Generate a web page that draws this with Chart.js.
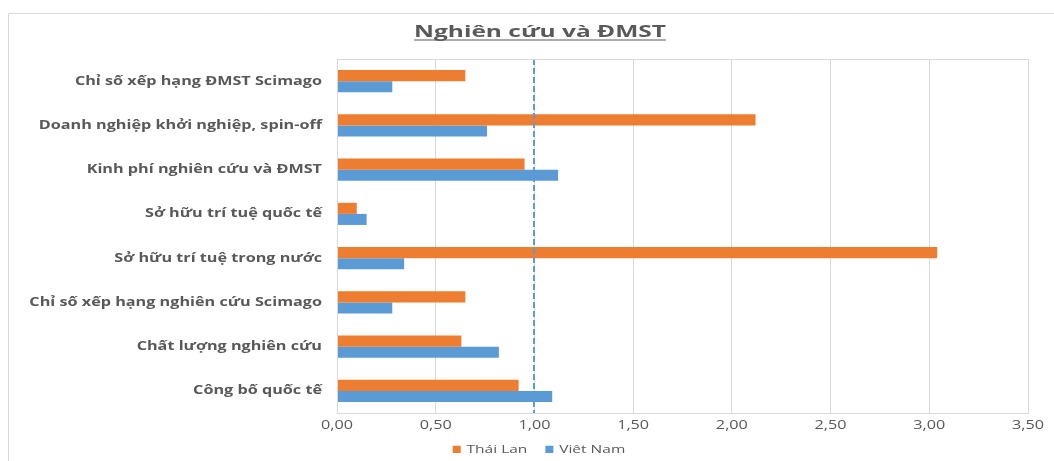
<!DOCTYPE html>
<html>
<head>
<meta charset="utf-8">
<script src="https://cdn.jsdelivr.net/npm/chart.js@4.4.1/dist/chart.umd.min.js"></script>
<style>
  html, body { margin: 0; padding: 0; background: #ffffff; }
  #wrap { width: 1054px; height: 461px; position: relative; }
  canvas { display: block; }
</style>
</head>
<body>
<div id="wrap"><canvas id="chart" width="1054" height="461"></canvas></div>
<script>
// ---- data ----
const chartTitle = 'Nghiên cứu và ĐMST';
const categories = [
  'Chỉ số xếp hạng ĐMST Scimago',
  'Doanh nghiệp khởi nghiệp, spin-off',
  'Kinh phí nghiên cứu và ĐMST',
  'Sở hữu trí tuệ quốc tế',
  'Sở hữu trí tuệ trong nước',
  'Chỉ số xếp hạng nghiên cứu Scimago',
  'Chất lượng nghiên cứu',
  'Công bố quốc tế'
];
const seriesNames = ['Thái Lan', 'Việt Nam'];
const thaiLan = [0.65, 2.12, 0.95, 0.10, 3.04, 0.65, 0.63, 0.92];
const vietNam = [0.28, 0.76, 1.12, 0.15, 0.34, 0.28, 0.82, 1.09];
const xTickLabels = ['0,00', '0,50', '1,00', '1,50', '2,00', '2,50', '3,00', '3,50'];
const referenceValue = 1;

// ---- style ----
const ORANGE = '#ED7D31';
const BLUE = '#5B9BD5';
const TEXT = '#595959';
const GRID = '#D9D9D9';
const FONT = '"Open Sans", "Liberation Sans", sans-serif';
const TEXT_STRETCH = 1.35;   // wide lettering for axis and legend text
const TITLE_STRETCH = 1.53;
const PLOT_LEFT = 337;
const FRAME_LEFT = 8;

const canvas = document.getElementById('chart');
const ctx = canvas.getContext('2d');

// Horizontally widened text drawing for all labels on this canvas.
const rawFill = ctx.fillText.bind(ctx);
const rawMeasure = ctx.measureText.bind(ctx);
ctx.fillText = function (text, x, y) {
  this.save();
  this.translate(x, y);
  this.scale(TEXT_STRETCH, 1);
  rawFill(text, 0, 0);
  this.restore();
};
ctx.measureText = function (text) {
  const m = rawMeasure(text);
  return {
    width: m.width * TEXT_STRETCH,
    actualBoundingBoxAscent: m.actualBoundingBoxAscent,
    actualBoundingBoxDescent: m.actualBoundingBoxDescent,
    actualBoundingBoxLeft: m.actualBoundingBoxLeft * TEXT_STRETCH,
    actualBoundingBoxRight: m.actualBoundingBoxRight * TEXT_STRETCH,
    fontBoundingBoxAscent: m.fontBoundingBoxAscent,
    fontBoundingBoxDescent: m.fontBoundingBoxDescent
  };
};

const decorations = {
  id: 'decorations',
  afterLayout(chart) {
    // centre the legend on the framed chart rather than the whole canvas
    const lg = chart.legend;
    lg.left = 50;
    lg.top -= 8;
    lg.bottom -= 8;
  },
  afterDatasetsDraw(chart) {
    const { ctx, chartArea: a, scales: { x } } = chart;
    const px = Math.round(x.getPixelForValue(referenceValue));
    ctx.save();
    ctx.strokeStyle = BLUE;
    ctx.lineWidth = 2;
    ctx.setLineDash([6, 3]);
    ctx.beginPath();
    ctx.moveTo(px, a.top);
    ctx.lineTo(px, a.bottom);
    ctx.stroke();
    ctx.restore();
  },
  afterDraw(chart) {
    const { ctx, chartArea: a } = chart;
    ctx.save();
    // outer frame
    ctx.strokeStyle = GRID;
    ctx.lineWidth = 1;
    ctx.beginPath();
    ctx.moveTo(FRAME_LEFT + 0.5, chart.height);
    ctx.lineTo(FRAME_LEFT + 0.5, 13.5);
    ctx.lineTo(chart.width, 13.5);
    ctx.stroke();
    // plot border
    ctx.strokeRect(Math.round(a.left) + 0.5, Math.round(a.top) + 0.5,
                   Math.round(a.right - a.left), Math.round(a.bottom - a.top));
    // title with underline
    ctx.font = 'bold 16px ' + FONT;
    ctx.fillStyle = TEXT;
    ctx.textAlign = 'center';
    ctx.textBaseline = 'alphabetic';
    const cx = 540, base = 37;
    ctx.save();
    ctx.translate(cx, base);
    ctx.scale(TITLE_STRETCH, 1);
    rawFill(chartTitle, 0, 0);
    ctx.restore();
    const w = rawMeasure(chartTitle).width * TITLE_STRETCH;
    ctx.strokeStyle = TEXT;
    ctx.lineWidth = 1.2;
    ctx.beginPath();
    ctx.moveTo(cx - w / 2, base + 3);
    ctx.lineTo(cx + w / 2, base + 3);
    ctx.stroke();
    ctx.restore();
  }
};

new Chart(ctx, {
  type: 'bar',
  data: {
    labels: categories,
    datasets: [
      { label: seriesNames[0], data: thaiLan, backgroundColor: ORANGE },
      { label: seriesNames[1], data: vietNam, backgroundColor: BLUE }
    ]
  },
  options: {
    indexAxis: 'y',
    responsive: false,
    animation: false,
    devicePixelRatio: 1,
    layout: { padding: { left: 0, right: 26, top: 59, bottom: 0 } },
    datasets: { bar: { categoryPercentage: 0.5, barPercentage: 1 } },
    scales: {
      x: {
        min: 0, max: 3.5,
        ticks: {
          stepSize: 0.5,
          color: TEXT,
          font: { family: FONT, size: 12 },
          padding: 5,
          callback: (value, index) => xTickLabels[index]
        },
        grid: { color: GRID, drawTicks: false },
        border: { color: GRID },
        afterFit(scale) { scale.height = 21; }
      },
      y: {
        ticks: {
          color: TEXT,
          font: { family: FONT, size: 12, weight: 'bold' },
          padding: 15
        },
        grid: { display: false, drawTicks: false },
        border: { color: GRID },
        afterFit(scale) { scale.width = PLOT_LEFT; }
      }
    },
    plugins: {
      title: { display: false },
      tooltip: { enabled: false },
      legend: {
        position: 'bottom',
        maxHeight: 27,
        labels: {
          boxWidth: 8,
          boxHeight: 8,
          color: TEXT,
          font: { family: FONT, size: 11.5 },
          padding: 18
        }
      }
    }
  },
  plugins: [decorations]
});
</script>
</body>
</html>
